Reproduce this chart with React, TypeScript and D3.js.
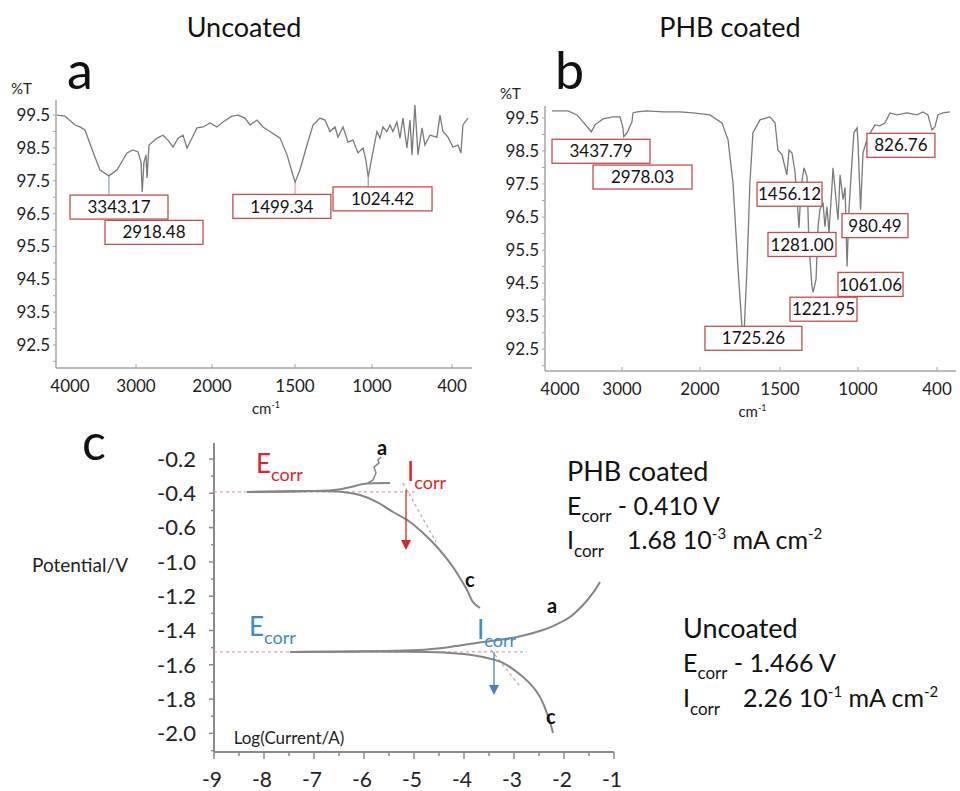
import React from "react";
import * as d3 from "d3";

const FONT = "Lato, 'Open Sans', 'DejaVu Sans', sans-serif";

// ---------- Panel a: Uncoated FTIR ----------
const wnTicks = [4000, 3000, 2000, 1500, 1000, 400];
const wnTickLabels = ["4000", "3000", "2000", "1500", "1000", "400"];
const tTicks = [99.5, 98.5, 97.5, 96.5, 95.5, 94.5, 93.5, 92.5];
const tTickLabels = ["99.5", "98.5", "97.5", "96.5", "95.5", "94.5", "93.5", "92.5"];

const uncoatedWn = [4000,3899,3772,3709,3646,3544,3456,3343.17,3241,3114,3038,2974,2934,2918.48,2895,2868,2855,2829,2724,2645,2579,2513,2447,2382,2329,2289,2197,2118,2026,1970,1934,1880,1843,1801,1771,1729,1693,1651,1590,1548,1518,1499.34,1468,1422,1383,1338,1305,1273,1240,1221,1188,1156,1123,1091,1058,1040,1024.42,993,963,940,918,888,865,843,813,790,768,738,715,700,678,655,625,603,565,513,490,468,430,393,355,333,318,280];
const uncoatedT = [99.50,99.47,99.20,99.14,99.05,98.38,97.83,97.65,97.83,98.35,98.44,98.38,98.07,97.16,98.07,98.29,97.59,98.59,98.80,98.89,98.74,98.53,98.80,98.89,98.50,98.68,99.11,99.14,99.26,99.14,99.29,99.47,99.50,99.41,99.20,99.35,99.14,99.00,98.80,98.29,97.77,97.46,97.83,98.59,99.20,99.41,99.35,99.00,99.14,98.83,99.14,98.68,98.74,98.35,98.50,98.13,97.62,98.38,99.00,98.80,99.14,99.00,99.20,99.00,99.29,98.80,99.41,98.50,99.35,98.29,99.81,98.29,99.11,98.59,98.89,98.83,99.50,99.00,98.83,98.53,98.59,98.35,99.20,99.41];

const uncoatedPeakLabels = ["3343.17", "2918.48", "1499.34", "1024.42"];
const uncoatedPeakWn = [3343.17, 2918.48, 1499.34, 1024.42];
const uncoatedPeakT = [97.65, 97.16, 97.46, 97.62];
const uncoatedBoxWn = [3215, 2763, 1579, 921];
const uncoatedBoxT = [96.70, 95.93, 96.72, 96.95];

// ---------- Panel b: PHB coated FTIR ----------
const coatedWn = [4000,3771,3643,3557,3437.79,3386,3271,3129,3029,2990,2978.03,2936,2872,2859,2808,2679,2474,2256,2090,1938,1863,1825,1794,1763,1738,1725.26,1706,1688,1669,1625,1563,1531,1513,1487,1456.12,1442,1423,1404,1391,1378,1365,1346,1327,1314,1295,1288,1269,1256,1244,1224,1212,1199,1186,1167,1160,1141,1128,1115,1096,1083,1070,1058,1038,1026,1006,1000,980.49,962,932,894,871,833,795,757,704,628,552,507,469,438,416,393,355,302];
const coatedT = [99.71,99.71,99.59,99.38,99.08,99.29,99.47,99.53,99.53,99.23,98.93,99.05,99.38,99.65,99.68,99.71,99.68,99.68,99.65,99.59,99.35,98.84,97.54,95.0,93.19,92.9,95.0,97.54,99.05,99.44,99.53,99.35,98.53,98.38,97.78,98.53,98.44,97.87,97.03,96.18,97.42,97.99,97.72,95.61,94.40,94.22,94.61,96.21,96.72,96.94,96.21,96.82,96.03,97.42,97.99,97.03,96.42,97.78,97.03,97.39,95.0,96.72,98.23,99.05,99.2,98.75,96.72,98.44,98.84,99.14,99.29,99.26,99.35,99.65,99.59,99.65,99.59,99.68,99.59,99.14,99.23,99.59,99.65,99.68];

const coatedPeakLabels = ["3437.79", "2978.03", "1456.12", "1281.00", "980.49", "1061.06", "1221.95", "1725.26", "826.76"];
const coatedBoxWn = [3300, 2737, 1439, 1359, 871, 905, 1221, 1666, 674];
const coatedBoxT = [98.49, 97.71, 97.19, 95.67, 96.24, 94.46, 93.71, 92.83, 98.67];

// ---------- Panel c: Tafel plots ----------
const logITicks = [-9, -8, -7, -6, -5, -4, -3, -2, -1];
const logITickLabels = ["-9", "-8", "-7", "-6", "-5", "-4", "-3", "-2", "-1"];
const potTicks = [-0.2, -0.4, -0.6, -1.0, -1.2, -1.4, -1.6, -1.8, -2.0];
const potTickLabels = ["-0.2", "-0.4", "-0.6", "-1.0", "-1.2", "-1.4", "-1.6", "-1.8", "-2.0"];

const phbCathodicLogI = [-8.34, -6.42, -6.08, -5.74, -5.42, -5.08, -4.82, -4.54, -4.28, -4.08, -3.94, -3.82, -3.68];
const phbCathodicE = [-0.392, -0.392, -0.410, -0.451, -0.509, -0.567, -0.663, -0.826, -1.006, -1.094, -1.164, -1.234, -1.269];
const phbAnodicLogI = [-8.34, -6.60, -6.26, -6.02, -5.48];
const phbAnodicE = [-0.392, -0.381, -0.363, -0.346, -0.340];
const phbNoiseLogI = [-5.92, -5.82, -5.76, -5.80, -5.70, -5.72, -5.66];
const phbNoiseE = [-0.340, -0.322, -0.282, -0.247, -0.223, -0.206, -0.188];

const uncAnodicLogI = [-7.48, -4.94, -4.28, -3.62, -2.94, -2.42, -2.22, -1.88, -1.62, -1.42, -1.28];
const uncAnodicE = [-1.525, -1.514, -1.496, -1.467, -1.438, -1.397, -1.374, -1.321, -1.251, -1.181, -1.117];
const uncCathodicLogI = [-7.48, -4.28, -3.62, -3.22, -2.82, -2.62, -2.48, -2.38, -2.28, -2.22];
const uncCathodicE = [-1.525, -1.531, -1.554, -1.589, -1.671, -1.729, -1.788, -1.852, -1.933, -1.997];

const phbEcorrLine = -0.392;
const phbEcorrEndLogI = -4.92;
const uncEcorrLine = -1.525;
const uncEcorrEndLogI = -2.74;
const phbTangentLogI = [-5.22, -4.56];
const phbTangentE = [-0.340, -0.768];
const uncTangentLogI = [-3.46, -2.90];
const uncTangentE = [-1.514, -1.718];
const phbArrowLogI = -5.16;
const phbArrowE = [-0.381, -0.860];
const uncArrowLogI = -3.40;
const uncArrowE = [-1.525, -1.776];

// ---------- layout ----------
const boxWidthsA = [98, 98, 98, 99];
const boxWidthsB = [98, 99, 65, 68, 66, 65, 67, 97, 68];
const BOX_H = 24;

const GRAY_LINE = "#7a7a7a";
const AXIS = "#a6a6a6";
const BOX_STROKE = "#c0504d";

function zip(a: number[], b: number[]): [number, number][] {
  return a.map((v, i) => [v, b[i]]);
}

function Sub({ main, sub, x, y, size, subSize, fill, anchor }: any) {
  return (
    <text x={x} y={y} fontSize={size} fill={fill} fontFamily={FONT} textAnchor={anchor || "start"}>
      <tspan>{main}</tspan>
      <tspan fontSize={subSize} dy={subSize * 0.45}>{sub}</tspan>
    </text>
  );
}

function FtirPanel(props: any) {
  const { x, y, wn, t, axisX, axisBottom, axisTop, axisRight, letter, letterX, title, titleX, boxes, connectors, firstLabelDx, pctX, pctY } = props;
  const line = d3.line<[number, number]>().x((d) => x(d[0])).y((d) => y(d[1]));
  const halfTicks = d3.range(92, 100, 0.5);
  return (
    <g>
      <text x={titleX} y={37} fontSize={27} textAnchor="middle" fontFamily={FONT} fill="#111">{title}</text>
      <text x={letterX} y={89} fontSize={52} fontFamily={FONT} fill="#111">{letter}</text>
      <text x={pctX} y={pctY} fontSize={15} fontFamily={FONT} fill="#222">%T</text>
      <line x1={axisX} x2={axisX} y1={axisTop} y2={axisBottom} stroke={AXIS} strokeWidth={1.5} />
      <line x1={axisX} x2={axisRight} y1={axisBottom} y2={axisBottom} stroke={AXIS} strokeWidth={1.5} />
      {halfTicks.map((v) => (
        <line key={v} x1={axisX - 3} x2={axisX} y1={y(v)} y2={y(v)} stroke={AXIS} strokeWidth={1} />
      ))}
      {tTicks.map((v, i) => (
        <text key={v} x={axisX - 6} y={y(v)} dy="0.35em" fontSize={17} textAnchor="end" fontFamily={FONT} fill="#222">{tTickLabels[i]}</text>
      ))}
      {wnTicks.map((v, i) => (
        <g key={v}>
          {i > 0 && <line x1={x(v)} x2={x(v)} y1={axisBottom} y2={axisBottom - 4} stroke={AXIS} strokeWidth={1} />}
          <text x={x(v) + (i === 0 ? firstLabelDx : 0)} y={axisBottom + 24} fontSize={17} textAnchor="middle" fontFamily={FONT} fill="#222">{wnTickLabels[i]}</text>
        </g>
      ))}
      <text x={(axisX + axisRight) / 2 + 2} y={axisBottom + 46} fontSize={15} textAnchor="middle" fontFamily={FONT} fill="#222">
        cm<tspan fontSize={9} dy={-6}>-1</tspan>
      </text>
      {connectors && connectors.map((c: any, i: number) => (
        <line key={i} x1={x(c.wn)} x2={x(c.wn)} y1={y(c.t)} y2={y(c.toT)} stroke={c.color} strokeWidth={1.2} />
      ))}
      <path d={line(zip(wn, t)) || ""} fill="none" stroke={GRAY_LINE} strokeWidth={1.3} />
      {boxes.map((b: any, i: number) => (
        <g key={i}>
          <rect x={x(b.wn) - b.w / 2} y={y(b.t) - BOX_H / 2} width={b.w} height={BOX_H} fill="#fff" stroke={BOX_STROKE} strokeWidth={1.3} />
          <text x={x(b.wn)} y={y(b.t)} dy="0.36em" fontSize={17} textAnchor="middle" fontFamily={FONT} fill="#111">{b.label}</text>
        </g>
      ))}
    </g>
  );
}

export default function App() {
  const xA = d3.scaleLinear().domain(wnTicks).range([57, 136, 212, 295, 372, 452]);
  const yA = d3.scaleLinear().domain([91.8, 99.9]).range([368, 102]);
  const xB = d3.scaleLinear().domain(wnTicks).range([552, 622, 700, 780, 858, 937]);
  const yB = d3.scaleLinear().domain([91.84, 99.8]).range([371, 108]);
  const xC = d3.scaleLinear().domain([-9, -1]).range([214, 614]);
  const yC = d3.scaleLinear().domain([-0.2, -0.6, -1.0, -2.0]).range([459, 527.6, 561.9, 733.4]);

  const boxesA = uncoatedPeakLabels.map((l, i) => ({ label: l, wn: uncoatedBoxWn[i], t: uncoatedBoxT[i], w: boxWidthsA[i] }));
  const boxesB = coatedPeakLabels.map((l, i) => ({ label: l, wn: coatedBoxWn[i], t: coatedBoxT[i], w: boxWidthsB[i] }));
  const connectorColors = ["#8e9bd8", "none", "#f0a0a0", "#9a9a9a"];
  const connectorsA = uncoatedPeakWn.map((w, i) => ({ wn: w, t: uncoatedPeakT[i], toT: uncoatedBoxT[i], color: connectorColors[i] }));

  const lineC = d3.line<[number, number]>().x((d) => xC(d[0])).y((d) => yC(d[1])).curve(d3.curveCatmullRom.alpha(0.5));
  const lineStraight = d3.line<[number, number]>().x((d) => xC(d[0])).y((d) => yC(d[1]));

  const cAxisY = 752;
  const cAxisTop = 443;
  const minorX = d3.range(-9, -0.99, 0.5);
  const minorY = d3.range(0, 18).map((i) => cAxisTop + 16 + i * 17.15);

  const arrow = (lx: number, e: number[], color: string) => {
    const x0 = xC(lx);
    const y0 = yC(e[0]);
    const y1 = yC(e[1]);
    return (
      <g>
        <line x1={x0} x2={x0} y1={y0} y2={y1 - 9} stroke={color} strokeWidth={1.3} />
        <path d={`M${x0 - 5},${y1 - 10} L${x0 + 5},${y1 - 10} L${x0},${y1} Z`} fill={color} />
      </g>
    );
  };

  const RED = "#d9262b";
  const BLUE = "#3b8cc4";

  return (
    <svg width={960} height={791} style={{ display: "block", position: "absolute", left: 0, top: 0, background: "#fff" }}>
      <rect x={0} y={0} width={960} height={791} fill="#fff" />
      <FtirPanel x={xA} y={yA} wn={uncoatedWn} t={uncoatedT} axisX={56} axisTop={100} axisBottom={368} axisRight={472}
        letter="a" letterX={67} title="Uncoated" titleX={244} boxes={boxesA} connectors={connectorsA} firstLabelDx={13} pctX={11} pctY={94} />
      <FtirPanel x={xB} y={yB} wn={coatedWn} t={coatedT} axisX={545} axisTop={106} axisBottom={371} axisRight={956}
        letter="b" letterX={555} title="PHB coated" titleX={730} boxes={boxesB} connectors={null} firstLabelDx={8} pctX={500} pctY={99} />

      {/* Panel c */}
      <text x={82} y={460} fontSize={50} fontFamily={FONT} fill="#111">c</text>
      <text x={128} y={572} fontSize={19} textAnchor="end" fontFamily={FONT} fill="#222">Potential/V</text>
      <line x1={214} x2={214} y1={cAxisTop} y2={cAxisY} stroke="#8a8a8a" strokeWidth={2} />
      <line x1={214} x2={614} y1={cAxisY} y2={cAxisY} stroke="#8a8a8a" strokeWidth={2} />
      {minorY.map((yy, i) => (
        <line key={i} x1={i % 2 === 0 ? 209 : 211} x2={214} y1={yy} y2={yy} stroke="#8a8a8a" strokeWidth={1.5} />
      ))}
      {potTicks.map((v, i) => (
        <text key={v} x={196} y={yC(v)} dy="0.35em" fontSize={22} textAnchor="end" fontFamily={FONT} fill="#222">{potTickLabels[i]}</text>
      ))}
      {minorX.map((v, i) => (
        <line key={i} x1={xC(v)} x2={xC(v)} y1={cAxisY} y2={cAxisY + (i % 2 === 0 ? 7 : 4)} stroke="#8a8a8a" strokeWidth={1.5} />
      ))}
      {logITicks.map((v, i) => (
        <text key={v} x={xC(v) - 2} y={cAxisY + 35} fontSize={21} textAnchor="middle" fontFamily={FONT} fill="#222">{logITickLabels[i]}</text>
      ))}
      <text x={xC(-7.5)} y={744} fontSize={17} textAnchor="middle" fontFamily={FONT} fill="#222">Log(Current/A)</text>

      {/* dashed guides */}
      <line x1={xC(-9)} x2={xC(phbEcorrEndLogI)} y1={yC(phbEcorrLine)} y2={yC(phbEcorrLine)} stroke="#e3a0aa" strokeWidth={1.3} strokeDasharray="3,3" />
      <line x1={xC(-9)} x2={xC(uncEcorrEndLogI)} y1={yC(uncEcorrLine)} y2={yC(uncEcorrLine)} stroke="#e3a0aa" strokeWidth={1.3} strokeDasharray="3,3" />
      <path d={lineStraight(zip(phbTangentLogI, phbTangentE)) || ""} stroke="#c99" strokeWidth={1.2} strokeDasharray="3,3" fill="none" />
      <path d={lineStraight(zip(uncTangentLogI, uncTangentE)) || ""} stroke="#aab" strokeWidth={1.2} strokeDasharray="3,3" fill="none" />

      {/* curves */}
      <path d={lineC(zip(phbAnodicLogI, phbAnodicE)) || ""} fill="none" stroke="#858585" strokeWidth={2} />
      <path d={lineStraight(zip(phbNoiseLogI, phbNoiseE)) || ""} fill="none" stroke="#858585" strokeWidth={1.5} />
      <path d={lineC(zip(phbCathodicLogI, phbCathodicE)) || ""} fill="none" stroke="#858585" strokeWidth={2} />
      <path d={lineC(zip(uncAnodicLogI, uncAnodicE)) || ""} fill="none" stroke="#858585" strokeWidth={2} />
      <path d={lineC(zip(uncCathodicLogI, uncCathodicE)) || ""} fill="none" stroke="#858585" strokeWidth={2} />

      {arrow(phbArrowLogI, phbArrowE, RED)}
      {arrow(uncArrowLogI, uncArrowE, "#4a7fc1")}

      {/* curve annotations */}
      <Sub main="E" sub="corr" x={xC(-8.16)} y={yC(-0.282)} size={26} subSize={18} fill={RED} />
      <Sub main="I" sub="corr" x={xC(-5.14)} y={yC(-0.328)} size={26} subSize={18} fill={RED} />
      <Sub main="E" sub="corr" x={xC(-8.30)} y={yC(-1.432)} size={26} subSize={18} fill={BLUE} />
      <Sub main="I" sub="corr" x={xC(-3.74)} y={yC(-1.45)} size={26} subSize={18} fill={BLUE} />
      <text x={xC(-5.74)} y={yC(-0.177)} fontSize={20} fontWeight="bold" fontFamily={FONT} fill="#111">a</text>
      <text x={xC(-3.98)} y={yC(-1.147)} fontSize={20} fontWeight="bold" fontFamily={FONT} fill="#111">c</text>
      <text x={xC(-2.34)} y={yC(-1.298)} fontSize={20} fontWeight="bold" fontFamily={FONT} fill="#111">a</text>
      <text x={xC(-2.36)} y={yC(-1.945)} fontSize={20} fontWeight="bold" fontFamily={FONT} fill="#111">c</text>

      {/* right-hand text */}
      <text x={567} y={481} fontSize={27} fontFamily={FONT} fill="#111">PHB coated</text>
      <text x={567} y={515} fontSize={25} fontFamily={FONT} fill="#111">
        <tspan>E</tspan><tspan fontSize={17} dy={7}>corr</tspan><tspan dy={-7}> - 0.410 V</tspan>
      </text>
      <Sub main="I" sub="corr" x={567} y={549} size={25} subSize={17} fill="#111" />
      <text x={627} y={549} fontSize={25} fontFamily={FONT} fill="#111">
        1.68 10<tspan fontSize={15} dy={-10}>-3</tspan><tspan dy={10}> mA cm</tspan><tspan fontSize={15} dy={-10}>-2</tspan>
      </text>

      <text x={683} y={638} fontSize={27} fontFamily={FONT} fill="#111">Uncoated</text>
      <text x={683} y={672} fontSize={25} fontFamily={FONT} fill="#111">
        <tspan>E</tspan><tspan fontSize={17} dy={7}>corr</tspan><tspan dy={-7}> - 1.466 V</tspan>
      </text>
      <Sub main="I" sub="corr" x={683} y={707} size={25} subSize={17} fill="#111" />
      <text x={743} y={707} fontSize={25} fontFamily={FONT} fill="#111">
        2.26 10<tspan fontSize={15} dy={-10}>-1</tspan><tspan dy={10}> mA cm</tspan><tspan fontSize={15} dy={-10}>-2</tspan>
      </text>
    </svg>
  );
}
